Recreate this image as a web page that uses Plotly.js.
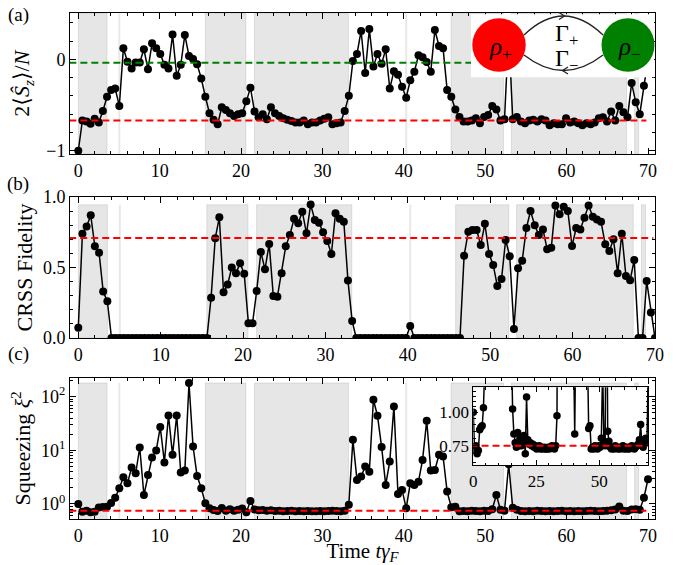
<!DOCTYPE html>
<html>
<head>
<meta charset="utf-8">
<script src="https://cdn.plot.ly/plotly-3.0.1.min.js"></script>
<style>html,body{margin:0;padding:0;background:#fff;}#chart{width:676px;height:565px;}</style>
</head>
<body>
<div id="chart"></div>
<script>
// ---- data ----
const time = [
 0.00,0.50,1.01,1.51,2.01,2.52,3.02,3.53,4.03,4.53,
 5.04,5.54,6.04,6.55,7.05,7.55,8.06,8.56,9.06,9.57,
 10.07,10.58,11.08,11.58,12.09,12.59,13.09,13.60,14.10,14.60,
 15.11,15.61,16.12,16.62,17.12,17.63,18.13,18.63,19.14,19.64,
 20.14,20.65,21.15,21.65,22.16,22.66,23.17,23.67,24.17,24.68,
 25.18,25.68,26.19,26.69,27.19,27.70,28.20,28.71,29.21,29.71,
 30.22,30.72,31.22,31.73,32.23,32.73,33.24,33.74,34.24,34.75,
 35.25,35.76,36.26,36.76,37.27,37.77,38.27,38.78,39.28,39.78,
 40.29,40.79,41.29,41.80,42.30,42.81,43.31,43.81,44.32,44.82,
 45.32,45.83,46.33,46.83,47.34,47.84,48.35,48.85,49.35,49.86,
 50.36,50.86,51.37,51.87,52.37,52.88,53.38,53.88,54.39,54.89,
 55.40,55.90,56.40,56.91,57.41,57.91,58.42,58.92,59.42,59.93,
 60.43,60.94,61.44,61.94,62.45,62.95,63.45,63.96,64.46,64.96,
 65.47,65.97,66.47,66.98,67.48,67.99,68.49,68.99,69.50,70.00];

const spinZ = [
 -1.0,-0.67,-0.68,-0.705,-0.65,-0.69,-0.565,-0.41,-0.335,-0.32,
 -0.51,0.12,-0.026,-0.10,-0.036,-0.036,0.11,-0.11,0.175,0.12,
 0.058,-0.06,-0.10,0.27,-0.18,-0.06,0.266,0.036,0.004,-0.055,
 -0.21,-0.41,-0.59,-0.66,-0.71,-0.525,-0.555,-0.59,-0.62,-0.60,
 -0.59,-0.46,-0.31,-0.57,-0.635,-0.60,-0.656,-0.525,-0.59,-0.62,
 -0.645,-0.66,-0.675,-0.69,-0.69,-0.67,-0.71,-0.69,-0.69,-0.67,
 -0.65,-0.635,-0.71,-0.70,-0.69,-0.565,-0.40,-0.02,0.058,0.31,
 -0.15,0.33,-0.08,0.058,-0.05,0.11,-0.32,-0.13,-0.17,-0.30,
 -0.42,-0.23,-0.135,0.044,0.022,-0.03,-0.135,0.32,0.146,0.12,
 -0.335,-0.41,-0.55,-0.63,-0.68,-0.68,-0.67,-0.645,-0.70,-0.63,
 -0.61,-0.51,-0.55,-0.67,-0.656,0.30,-0.656,-0.63,-0.68,-0.70,
 -0.67,-0.66,-0.68,-0.656,-0.67,-0.72,-0.70,-0.71,-0.71,-0.645,
 -0.69,-0.68,-0.70,-0.72,-0.70,-0.71,-0.69,-0.645,-0.635,-0.68,
 -0.57,-0.67,-0.51,-0.58,-0.635,-0.26,-0.47,-0.60,-0.29,0.0];

const fidelity = [
 0.073,0.74,0.79,0.87,0.65,0.605,0.33,0.26,0,0,
 0,0,0,0,0,0,0,0,0,0,
 0,0,0,0,0,0,0,0,0,0,
 0,0,0.286,0.707,0.856,0.324,0.38,0.50,0.46,0.53,
 0.455,0.104,0.104,0.333,0.61,0.487,0.667,0.298,0.293,0.46,
 0.65,0.73,0.845,0.813,0.896,0.742,0.946,0.837,0.818,0.75,
 0.688,0.596,0.884,0.845,0.825,0.407,0.12,0,0,0,
 0,0,0,0,0,0,0,0,0,0,
 0.085,0,0,0,0,0,0,0,0,0,
 0,0,0,0.584,0.754,0.766,0.766,0.66,0.81,0.596,
 0.518,0.369,0.418,0.695,0.58,0.064,0.494,0.548,0.78,0.90,
 0.80,0.73,0.77,0.63,0.64,0.94,0.877,0.93,0.90,0.652,
 0.78,0.77,0.853,0.94,0.86,0.84,0.825,0.664,0.617,0.70,
 0.46,0.74,0.44,0.41,0.553,0,0,0.404,0.18,0];

const squeezing = [
 1.0,0.72,0.75,0.70,0.72,0.86,0.88,0.89,1.04,1.31,
 1.96,3.15,2.43,4.77,3.74,11.3,1.47,3.48,7.35,9.93,
 27.1,5.93,44.8,8.24,44.8,3.85,4.2,180,11.8,3.33,
 1.96,1.03,0.83,0.77,0.74,0.84,0.75,0.80,0.75,0.78,
 0.82,0.70,1.14,0.79,0.76,0.77,0.75,0.76,0.74,0.75,
 0.73,0.74,0.75,0.73,0.74,0.73,0.74,0.73,0.73,0.74,
 0.73,0.74,0.75,0.74,0.73,0.75,0.97,15.7,2.81,3.24,
 4.99,4.0,87.9,44.2,11.5,2.27,6.18,66,1.54,1.83,
 0.83,2.43,2.27,2.61,6.64,35.6,4.2,4.3,8.24,7.67,
 1.70,0.87,0.89,0.73,0.74,0.73,0.75,0.74,0.73,0.75,
 0.74,0.80,1.47,0.78,0.75,5.5,0.85,0.78,0.74,0.73,
 0.74,0.73,0.75,0.74,0.73,0.74,0.73,0.74,0.75,0.73,
 0.74,0.73,0.74,0.73,0.74,0.75,0.74,0.73,0.74,0.75,
 0.76,0.79,0.90,0.75,0.74,0.79,0.80,0.78,1.31,2.9];

// reference levels
const szSteady = -0.67, szZero = -0.037, fidThreshold = 0.71, sqSteady = 0.75;
const refLineX = [-1.1, 69.8];

// shaded time windows and thin markers
const spanStart = [0, 15.6, 21.64, 45.8, 53.2, 68.35];
const spanEnd   = [3.53, 20.6, 33.2, 52.25, 67.36, 68.85];
const thinMarks = [5.04, 40.29];
const spanTopB = 0.945, spanTopC = 180, spanBotC = 0.5;

// ---- figure ----
const FONT = 'Liberation Serif, DejaVu Serif, serif';
const W = 676, H = 565, ML = 70, MR = 21, MT = 13, MB = 46;
const PW = W - ML - MR, PH = H - MT - MB;
const px = X => (X - ML) / PW;
const py = Y => (H - MB - Y) / PH;

const dataLine = {color: '#000', width: 1.5};
const dataMarker = {color: '#000', size: 8};
const dashStyle = '7px,4px';
const traces = [
  {x: time, y: spinZ, xaxis: 'x', yaxis: 'y', mode: 'lines+markers', line: dataLine, marker: dataMarker},
  {x: refLineX, y: [szZero, szZero], xaxis: 'x', yaxis: 'y', mode: 'lines', line: {color: '#008000', width: 2, dash: dashStyle}},
  {x: refLineX, y: [szSteady, szSteady], xaxis: 'x', yaxis: 'y', mode: 'lines', line: {color: '#ff0000', width: 2, dash: dashStyle}},
  {x: time, y: fidelity, xaxis: 'x2', yaxis: 'y2', mode: 'lines+markers', line: dataLine, marker: dataMarker},
  {x: refLineX, y: [fidThreshold, fidThreshold], xaxis: 'x2', yaxis: 'y2', mode: 'lines', line: {color: '#ff0000', width: 2, dash: dashStyle}},
  {x: time, y: squeezing, xaxis: 'x3', yaxis: 'y3', mode: 'lines+markers', line: dataLine, marker: dataMarker},
  {x: refLineX, y: [sqSteady, sqSteady], xaxis: 'x3', yaxis: 'y3', mode: 'lines', line: {color: '#ff0000', width: 2, dash: dashStyle}},
  {x: time, y: squeezing, xaxis: 'x4', yaxis: 'y4', mode: 'lines+markers', line: dataLine, marker: {color: '#000', size: 7.5}},
  {x: refLineX, y: [sqSteady, sqSteady], xaxis: 'x4', yaxis: 'y4', mode: 'lines', line: {color: '#ff0000', width: 2, dash: dashStyle}}
];

const shapes = [];
const spanFill = 'rgba(128,128,128,0.2)';
const spanEdge = 'rgba(128,128,128,0.2)';
function addSpans(xref, yref, y0, y1) {
  for (let k = 0; k < spanStart.length; k++) {
    shapes.push({type: 'rect', xref: xref, yref: yref, x0: spanStart[k], x1: spanEnd[k], y0: y0, y1: y1,
      fillcolor: spanFill, line: {color: spanEdge, width: 1}, layer: 'below'});
  }
  for (const m of thinMarks) {
    shapes.push({type: 'line', xref: xref, yref: yref, x0: m, x1: m, y0: y0, y1: y1,
      line: {color: 'rgba(128,128,128,0.18)', width: 2}, layer: 'below'});
  }
}
addSpans('x', 'y domain', 0, 1);
addSpans('x2', 'y2', 0, spanTopB);
addSpans('x3', 'y3', spanBotC, spanTopC);
addSpans('x4', 'y4 domain', 0, 1);

// diagram inset in panel (a)
shapes.push({type: 'rect', xref: 'paper', yref: 'paper', x0: px(471), x1: px(654), y0: py(77.3), y1: py(14.2),
  fillcolor: '#fff', line: {width: 0}, layer: 'above'});
shapes.push({type: 'circle', xref: 'paper', yref: 'paper', x0: px(472.3), x1: px(525.7), y0: py(71.7), y1: py(18.3),
  fillcolor: '#ff0000', line: {width: 0}, layer: 'above'});
shapes.push({type: 'circle', xref: 'paper', yref: 'paper', x0: px(601.5), x1: px(654.5), y0: py(71.7), y1: py(18.3),
  fillcolor: '#008000', line: {width: 0}, layer: 'above'});
const P = (X, Y) => px(X).toFixed(5) + ',' + py(Y).toFixed(5);
const arrowLine = {color: '#222', width: 1.3};
shapes.push({type: 'path', xref: 'paper', yref: 'paper', layer: 'above', line: arrowLine,
  path: 'M' + P(524, 35) + ' Q' + P(563.5, -3) + ' ' + P(603, 35)});
shapes.push({type: 'path', xref: 'paper', yref: 'paper', layer: 'above', line: arrowLine,
  path: 'M' + P(559, 12.5) + ' L' + P(564.5, 16) + ' L' + P(559, 19.5)});
shapes.push({type: 'path', xref: 'paper', yref: 'paper', layer: 'above', line: arrowLine,
  path: 'M' + P(524, 55) + ' Q' + P(563.5, 86) + ' ' + P(603, 55)});
shapes.push({type: 'path', xref: 'paper', yref: 'paper', layer: 'above', line: arrowLine,
  path: 'M' + P(568, 67) + ' L' + P(562.5, 70.5) + ' L' + P(568, 74)});

function note(text, X, Y, size) {
  return {text: text, x: px(X), y: py(Y), xref: 'paper', yref: 'paper', showarrow: false,
    xanchor: 'center', yanchor: 'middle', font: {size: size, color: '#000'}};
}
const annotations = [
  note('(a)', 18, 15, 19),
  note('(b)', 18, 184, 19),
  note('(c)', 18, 354, 19),
  note('<i>ρ</i><sub>+</sub>', 500, 48, 25),
  note('<i>ρ</i><sub>−</sub>', 629, 48, 25),
  note('Γ<sub>+</sub>', 566, 35, 24),
  note('Γ<sub>−</sub>', 566, 60, 24)
];

const axBase = {
  showline: true, linecolor: '#000', linewidth: 1, mirror: 'allticks', ticks: 'inside', ticklen: 6, tickwidth: 1,
  tickcolor: '#000', showgrid: false, zeroline: false, tickfont: {size: 18, color: '#000'}
};
const xMain = Object.assign({}, axBase, {dtick: 10, tick0: 0, minor: {dtick: 2, tick0: 0, ticks: 'inside', ticklen: 3, tickcolor: '#000'}});
const logMinor = [0.6,0.7,0.8,0.9,2,3,4,5,6,7,8,9,20,30,40,50,60,70,80,90,200];
const TITLE = 22;

const layout = {
  width: W, height: H, margin: {l: ML, r: MR, t: MT, b: MB},
  paper_bgcolor: '#fff', plot_bgcolor: '#fff', showlegend: false,
  font: {family: FONT, color: '#000'},
  xaxis: Object.assign({}, xMain, {anchor: 'y', domain: [0, 1], range: [-1.02, 70.86]}),
  yaxis: Object.assign({}, axBase, {anchor: 'x', domain: [0.7213, 0.9994], range: [-1.036, 0.503],
    tickvals: [-1, 0], minor: {dtick: 0.2, tick0: 0, ticks: 'inside', ticklen: 3, tickcolor: '#000'},
    title: {text: '2⟨<i>Ŝ</i><sub><i>z</i></sub>⟩/<i>N</i>', font: {size: TITLE}, standoff: 10}}),
  xaxis2: Object.assign({}, xMain, {anchor: 'y2', domain: [0, 1], range: [-1.007, 70]}),
  yaxis2: Object.assign({}, axBase, {anchor: 'x2', domain: [0.3577, 0.6364], range: [0, 1],
    tickvals: [0, 0.5, 1], ticktext: ['0.0', '0.5', '1.0'],
    minor: {dtick: 0.1, tick0: 0, ticks: 'inside', ticklen: 3, tickcolor: '#000'},
    title: {text: 'CRSS Fidelity', font: {size: TITLE}, standoff: 4}}),
  xaxis3: Object.assign({}, xMain, {anchor: 'y3', domain: [0, 1], range: [-1.02, 70.86],
    title: {text: 'Time <i>tγ</i><sub><i>F</i></sub>', font: {size: 21}, standoff: 4}}),
  yaxis3: Object.assign({}, axBase, {anchor: 'x3', domain: [0, 0.2793], type: 'log', range: [-0.28, 2.355],
    tickvals: [1, 10, 100], ticktext: ['10<sup>0</sup>', '10<sup>1</sup>', '10<sup>2</sup>'],
    minor: {tickvals: logMinor, ticks: 'inside', ticklen: 3, tickcolor: '#000'},
    title: {text: 'Squeezing <i>ξ</i><sup>2</sup>', font: {size: TITLE}, standoff: 4}}),
  xaxis4: Object.assign({}, axBase, {anchor: 'y4', domain: [0.6894, 0.9885], range: [0, 69.5],
    tickvals: [0, 25, 50], tickfont: {size: 17, color: '#000'}, ticklen: 5,
    minor: {dtick: 5, tick0: 0, ticks: 'inside', ticklen: 2.5, tickcolor: '#000'}}),
  yaxis4: Object.assign({}, axBase, {anchor: 'x4', domain: [0.1061, 0.2603], type: 'log', range: [-0.198, 0.0935],
    tickvals: [0.75, 1.0], ticktext: ['0.75', '1.00'], tickfont: {size: 17, color: '#000'}, ticklen: 5,
    minor: {tickvals: [0.65, 0.7, 0.8, 0.85, 0.9, 0.95, 1.05, 1.1, 1.15, 1.2], ticks: 'inside', ticklen: 2.5, tickcolor: '#000'}}),
  shapes: shapes,
  annotations: annotations
};

Plotly.newPlot('chart', traces, layout, {staticPlot: true, displayModeBar: false});
</script>
</body>
</html>
